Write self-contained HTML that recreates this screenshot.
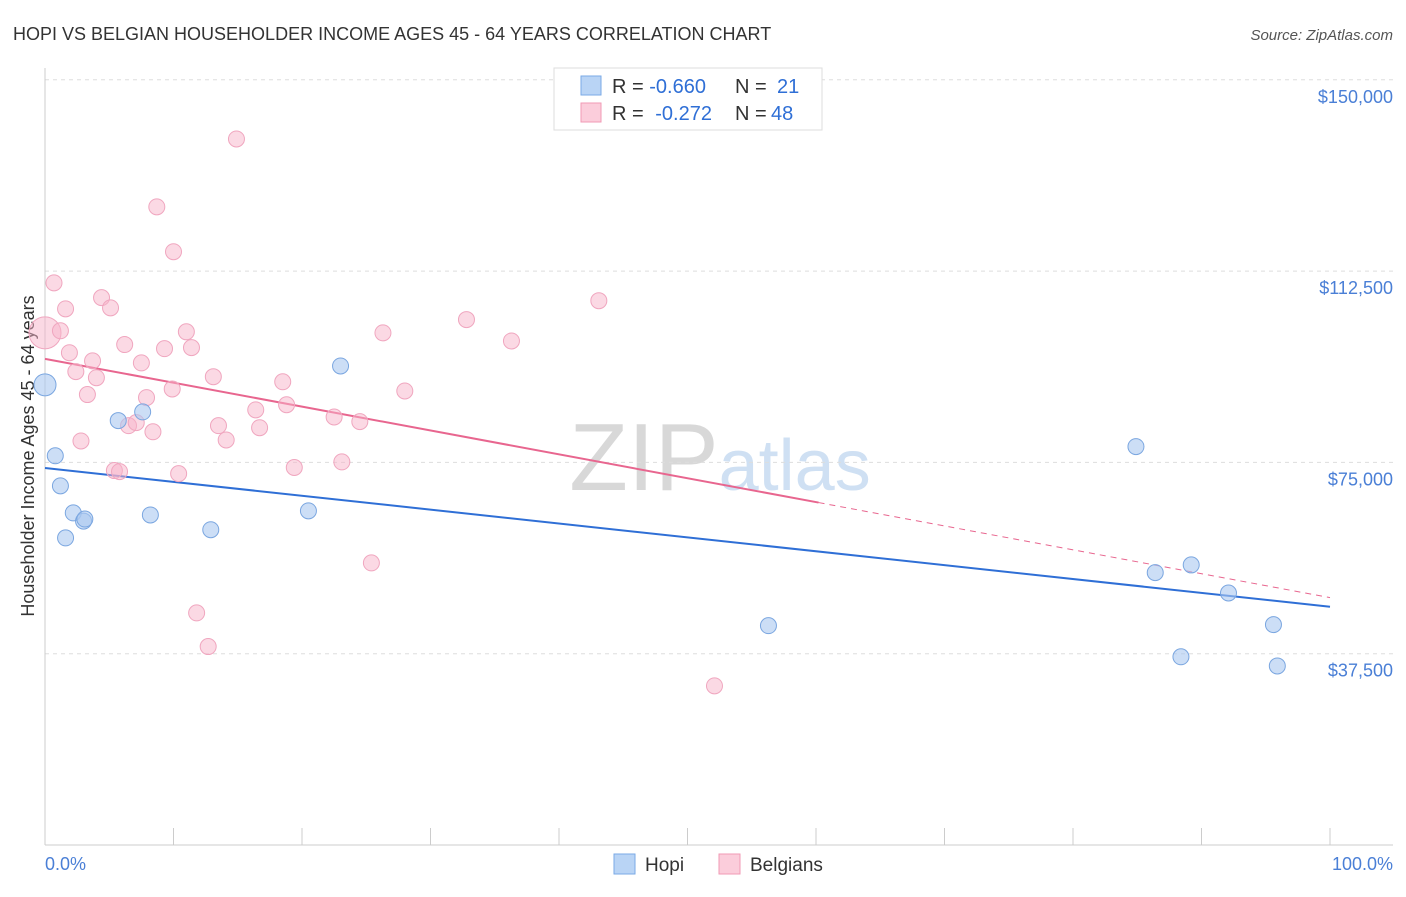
<!DOCTYPE html>
<html><head><meta charset="utf-8"><style>
body{margin:0;background:#fff;font-family:"Liberation Sans",sans-serif;}
svg text{font-family:"Liberation Sans",sans-serif;}
</style></head><body>
<svg id="chart" width="1406" height="892">
<text x="13" y="40" font-size="18" fill="#333">HOPI VS BELGIAN HOUSEHOLDER INCOME AGES 45 - 64 YEARS CORRELATION CHART</text>
<text x="1393" y="40" font-size="15" fill="#555" text-anchor="end" font-style="italic">Source: ZipAtlas.com</text>
<text x="720" y="490" font-size="96" fill="#ddd" text-anchor="middle" font-family="Liberation Serif"><tspan fill="#d8d8d8">ZIP</tspan><tspan fill="#cfe0f3" font-family="Liberation Sans" font-size="72">atlas</tspan></text>
<text transform="translate(34,456) rotate(-90)" font-size="18" fill="#333" text-anchor="middle">Householder Income Ages 45 - 64 years</text>
<g id="grid"></g><g id="axes"></g><g id="trend"></g><g id="pts"></g>
<g>
<rect x="554" y="68" width="268" height="62" fill="#fff" stroke="#ddd"/>
<rect x="581" y="76" width="20" height="19" fill="#b9d4f5" stroke="#7aaae6"/>
<rect x="581" y="103" width="20" height="19" fill="#fbcddb" stroke="#f09ab5"/>
<text x="612" y="93" font-size="20" fill="#333">R = <tspan fill="#2f6fd6">-0.660</tspan><tspan x="735">N = </tspan><tspan x="777" fill="#2f6fd6">21</tspan></text>
<text x="612" y="120" font-size="20" fill="#333">R = <tspan fill="#2f6fd6" dx="6">-0.272</tspan><tspan x="735">N = </tspan><tspan x="771" fill="#2f6fd6">48</tspan></text>
</g>
<g>
<rect x="614" y="854" width="21" height="20" fill="#b9d4f5" stroke="#7aaae6"/>
<text x="645" y="871" font-size="19" fill="#333">Hopi</text>
<rect x="719" y="854" width="21" height="20" fill="#fbcddb" stroke="#f09ab5"/>
<text x="750" y="871" font-size="19" fill="#333">Belgians</text>
</g>
<text x="45" y="870" font-size="18" fill="#4a7fd6">0.0%</text>
<text x="1393" y="870" font-size="18" fill="#4a7fd6" text-anchor="end">100.0%</text>
</svg>
<script>
const yTicks=[150000,112500,75000,37500];
const yTickLabels=["$150,000","$112,500","$75,000","$37,500"];
const hopiX=[0,0.8,1.2,2.2,3.0,3.1,1.6,5.7,7.6,8.2,12.9,20.5,23.0,56.3,84.9,86.4,88.4,89.2,92.1,95.6,95.9];
const hopiY=[90200,76300,70400,65100,63500,63900,60200,83200,84900,64700,61800,65500,93900,43000,78100,53400,36900,54900,49400,43200,35100];
const belX=[0,0.7,1.2,1.6,1.9,2.4,2.8,3.3,3.7,4.0,4.4,5.1,6.2,5.4,5.8,6.5,7.1,7.5,7.9,8.4,8.7,9.3,9.9,10.0,10.4,11.0,11.4,11.8,12.7,13.1,13.5,14.1,14.9,16.4,16.7,18.5,18.8,19.4,22.5,23.1,24.5,25.4,26.3,28.0,32.8,36.3,43.1,52.1];
const belY=[100400,110200,100800,105100,96500,92800,79200,88300,94900,91600,107300,105300,98100,73400,73200,82200,82800,94500,87700,81000,125100,97300,89400,116300,72800,100600,97500,45500,38900,91800,82200,79400,138400,85300,81800,90800,86300,74000,83900,75100,83000,55300,100400,89000,103000,98800,106700,31200];
const hopiTrend=[73900,46700];
const belTrend=[95300,48500];
const belSolidEnd=60.2;
const NS="http://www.w3.org/2000/svg";
const xs=p=>45+p*12.85;
const ys=v=>845-v/37500*191.3;
function mk(tag,attrs,parent){const e=document.createElementNS(NS,tag);for(const k in attrs)e.setAttribute(k,attrs[k]);parent.appendChild(e);return e;}
const grid=document.getElementById('grid'),axes=document.getElementById('axes'),trend=document.getElementById('trend'),pts=document.getElementById('pts');
yTicks.forEach((t,i)=>{
 const l=mk('line',{x1:45,x2:1393,y1:ys(t),y2:ys(t),stroke:'#ddd','stroke-dasharray':'4,4'},grid);
 
 
 const tx=mk('text',{x:1393,y:ys(t)+23,'font-size':18,fill:'#4a7fd6','text-anchor':'end'},grid);
 tx.textContent=yTickLabels[i];
 
 
});
const ya=mk('line',{x1:45,x2:45,y1:68,y2:845,stroke:'#ccc'},axes);


const xa=mk('line',{x1:45,x2:1393,y1:845,y2:845,stroke:'#ccc'},axes);


for(let i=0;i<=10;i++){const t=mk('line',{x1:xs(i*10),x2:xs(i*10),y1:828,y2:845,stroke:'#ccc'},axes);
 
 }
const bt=mk('line',{x1:xs(0),y1:ys(hopiTrend[0]),x2:xs(100),y2:ys(hopiTrend[1]),stroke:'#2f6fd6','stroke-width':2},trend);


const pv=belTrend[0]+(belTrend[1]-belTrend[0])*belSolidEnd/100;
const pt=mk('line',{x1:xs(0),y1:ys(belTrend[0]),x2:xs(belSolidEnd),y2:ys(pv),stroke:'#e8668f','stroke-width':2},trend);


const pd=mk('line',{x1:xs(belSolidEnd),y1:ys(pv),x2:xs(100),y2:ys(belTrend[1]),stroke:'#e8668f','stroke-width':1,'stroke-dasharray':'6,5'},trend);


belX.forEach((x,i)=>{const c=mk('circle',{cx:xs(x),cy:ys(belY[i]),r:i==0?16:8,fill:'rgba(248,180,202,0.5)',stroke:'#f0a6bf','stroke-width':1},pts);
 
 });
hopiX.forEach((x,i)=>{const c=mk('circle',{cx:xs(x),cy:ys(hopiY[i]),r:i==0?11:8,fill:'rgba(170,200,240,0.6)',stroke:'#7aa6e0','stroke-width':1},pts);
 
 });
</script>
</body></html>
